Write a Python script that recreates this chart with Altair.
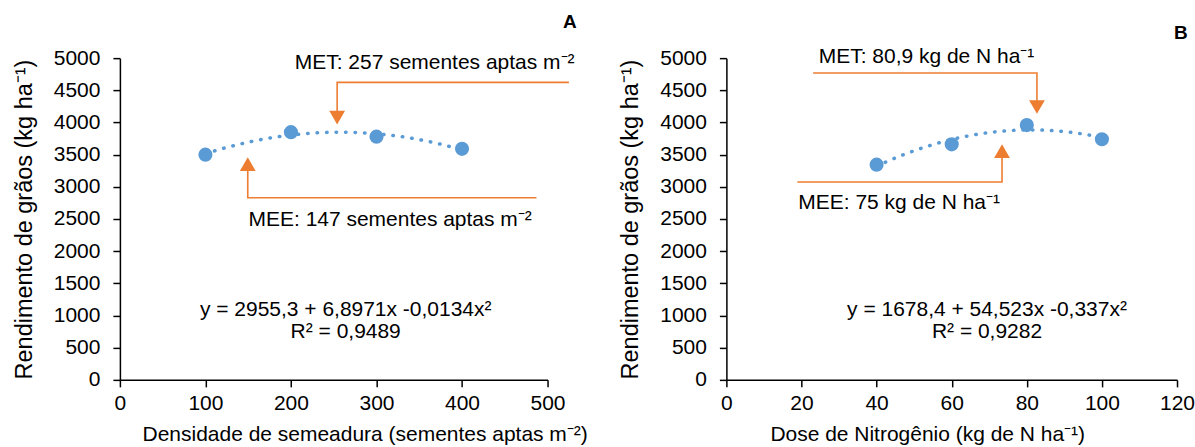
import altair as alt
import pandas as pd

# ---- data ----
dens = [100, 200, 300, 400]
yield_a = [3500, 3850, 3780, 3590]
dose = [40, 60, 80, 100]
yield_b = [3345, 3660, 3960, 3740]

y_ticks = [0, 500, 1000, 1500, 2000, 2500, 3000, 3500, 4000, 4500, 5000]
x_ticks_a = [0, 100, 200, 300, 400, 500]
x_ticks_b = [0, 20, 40, 60, 80, 100, 120]

# annotation texts
met_a = "MET: 257 sementes aptas m⁻²"
mee_a = "MEE: 147 sementes aptas m⁻²"
eq_a = "y = 2955,3 + 6,8971x -0,0134x²"
r2_a = "R² = 0,9489"
met_b = "MET: 80,9 kg de N ha⁻¹"
mee_b = "MEE: 75 kg de N ha⁻¹"
eq_b = "y = 1678,4 + 54,523x -0,337x²"
r2_b = "R² = 0,9282"

BLUE = "#5B9BD5"
ORANGE = "#ED7D31"
FONT = "Liberation Sans"
FS = 21
H = 322


def panel(xs, ys, xdom, xticks, xtitle, title_x, width,
          met, met_line, met_head, mee, mee_line, mee_head,
          met_txt, mee_txt, eq_txt, r2_txt, letter, letter_pos):
    df = pd.DataFrame({"x": xs, "y": ys})
    xsc = alt.Scale(domain=xdom, nice=False, zero=False)
    ysc = alt.Scale(domain=[0, 5000], nice=False)
    xax = alt.Axis(values=xticks, title=xtitle, titleX=title_x, labelFlush=False,
                   format="d", labelOverlap=False)
    yax = alt.Axis(values=y_ticks, title="Rendimento de grãos (kg ha⁻¹)", format="d",
                   labelOverlap=False)

    def X(f="x"):
        return alt.X(f + ":Q", scale=xsc, axis=xax)

    def Y(f="y"):
        return alt.Y(f + ":Q", scale=ysc, axis=yax)

    base = alt.Chart(df)
    pts = base.mark_circle(size=200, opacity=1, color=BLUE).encode(x=X(), y=Y())
    trend = base.transform_regression("x", "y", method="poly", order=2).mark_line(
        color=BLUE, strokeWidth=3.5, strokeDash=[0.5, 9], strokeCap="round"
    ).encode(x=X(), y=Y())

    layers = [trend, pts]
    # arrow lines (polyline: horizontal + vertical)
    for line in (met_line, mee_line):
        ldf = pd.DataFrame({"x": [p[0] for p in line], "y": [p[1] for p in line],
                            "o": list(range(len(line)))})
        layers.append(alt.Chart(ldf).mark_line(color=ORANGE, strokeWidth=1.6).encode(
            x=X(), y=Y(), order="o:Q"))
    for head, shape in ((met_head, "triangle-down"), (mee_head, "triangle-up")):
        hdf = pd.DataFrame({"x": [head[0]], "y": [head[1]]})
        layers.append(alt.Chart(hdf).mark_point(shape=shape, filled=True, opacity=1, size=250,
                                                color=ORANGE, strokeWidth=0).encode(x=X(), y=Y()))
    texts = [
        (met_txt, met[0], met[1], "normal", FS),
        (mee_txt, mee[0], mee[1], "normal", FS),
        (eq_txt[0], eq_txt[1], eq_txt[2], "normal", FS),
        (r2_txt[0], r2_txt[1], r2_txt[2], "normal", FS),
        (letter, letter_pos[0], letter_pos[1], "bold", 19),
    ]
    for t, tx, ty, fw, fs in texts:
        tdf = pd.DataFrame({"x": [tx], "y": [ty], "t": [t]})
        layers.append(alt.Chart(tdf).mark_text(font=FONT, fontSize=fs, fontWeight=fw,
                                               color="black", align="center", baseline="middle").encode(
            x=X(), y=Y(), text="t:N"))
    return alt.layer(*layers).properties(width=width, height=H)


left = panel(
    dens, yield_a, [0, 500], x_ticks_a,
    "Densidade de semeadura (sementes aptas m⁻²)", 245, 428,
    met=(368, 4922), met_line=[(525, 4623), (254, 4623), (254, 4150)], met_head=(254, 4075),
    mee=(316, 2484), mee_line=[(487, 2831), (149.5, 2831), (149.5, 3280)], mee_head=(149.5, 3352),
    met_txt=met_a, mee_txt=mee_a, eq_txt=(eq_a, 264, 1087), r2_txt=(r2_a, 264, 745),
    letter="A", letter_pos=(526, 5559),
)
right = panel(
    dose, yield_b, [0, 120], x_ticks_b,
    "Dose de Nitrogênio (kg de N ha⁻¹)", 201, 451,
    met=(53.3, 5016), met_line=[(23.1, 4770), (82.7, 4770), (82.7, 4320)], met_head=(82.7, 4241),
    mee=(46, 2748), mee_line=[(18.9, 3075), (73.4, 3075), (73.4, 3480)], mee_head=(73.4, 3554),
    met_txt=met_b, mee_txt=mee_b, eq_txt=(eq_b, 69.4, 1087), r2_txt=(r2_b, 69.4, 745),
    letter="B", letter_pos=(121, 5388),
)

chart = alt.hconcat(left, right, spacing=179, bounds="flush").properties(
    padding={"left": 12, "top": 13, "right": 0, "bottom": 0}
).configure_view(stroke=None).configure_axis(
    grid=False, domainColor="black", domainWidth=1.5, tickColor="black", tickSize=7,
    tickWidth=1.5, labelFont=FONT, labelFontSize=FS, labelColor="black",
    titleFont=FONT, titleFontSize=FS, titleFontWeight="normal", titleColor="black",
).configure_axisY(titlePadding=17, labelPadding=13, titleFontSize=23.5).configure_axisX(
    titlePadding=10, labelPadding=6)

chart.save("out.html", embed_options={"renderer": "svg", "actions": False})
